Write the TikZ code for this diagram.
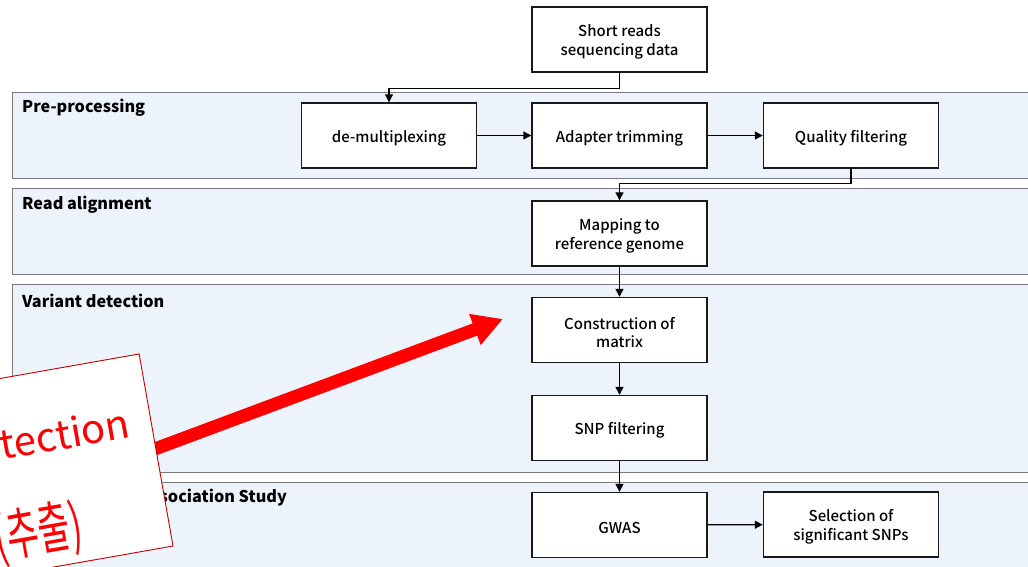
\documentclass[tikz,border=0pt]{standalone}
\usepackage{fontspec}
\setmainfont{Noto Sans CJK KR}
\newfontfamily\stepfont{Noto Sans CJK KR Medium}
\usetikzlibrary{arrows.meta}
\definecolor{lanefill}{HTML}{EDF3FA}
\definecolor{laneline}{HTML}{7A7A7A}
\definecolor{noteline}{HTML}{C00000}
\definecolor{ink}{HTML}{FF0000}

\begin{document}
\begin{tikzpicture}[x=1pt,y=-1pt,
  lane/.style={draw=laneline, fill=lanefill, line width=1pt},
  lanetitle/.style={anchor=west, inner sep=0pt, font=\bfseries\fontsize{16.2}{19}\selectfont},
  stepbox/.style={draw=black!90, fill=white, line width=1.4pt,
    minimum width=175pt, minimum height=65pt, inner sep=0pt},
  steptext/.style={inner sep=0pt, align=center, yshift=-2.5pt,
    font=\stepfont\fontsize{15}{18.5}\selectfont},
  flow/.style={-{Triangle[length=8pt,width=8pt]}, line width=1.2pt},
  handnote/.style={text=ink, inner sep=0pt, rotate=10},
]
\clip (0,0) rectangle (1028,566);
\fill[white] (0,0) rectangle (1028,566);

% swim lanes
\draw[lane] (12,92)  rectangle (1040,178);
\draw[lane] (12,188) rectangle (1040,274);
\draw[lane] (12,284) rectangle (1040,472);
\draw[lane] (12,482) rectangle (1040,590);

\node[lanetitle] (t1) at (22,108) {Pre-processing};
\node[lanetitle] (t2) at (22,205) {Read alignment};
\node[lanetitle] (t3) at (22,301) {Variant detection};
\node[lanetitle] (t4) at (22,498) {Genome-wide Association Study};

% process steps: box first, then its caption
\node[stepbox] (short) at (619.5,39.5)  {};
\node[stepbox] (demux) at (389,135.5)   {};
\node[stepbox] (adapt) at (619.5,135.5) {};
\node[stepbox] (qual)  at (851,135.5)   {};
\node[stepbox] (map)   at (619.5,233.5) {};
\node[stepbox] (cons)  at (619.5,330)   {};
\node[stepbox] (snp)   at (619.5,428)   {};
\node[stepbox] (gwas)  at (619.5,525)   {};
\node[stepbox] (sel)   at (851,524.5)   {};

\node[steptext] (shortT) at (short) {Short reads\\sequencing data};
\node[steptext] (demuxT) at (demux) {de-multiplexing};
\node[steptext] (adaptT) at (adapt) {Adapter trimming};
\node[steptext] (qualT)  at (qual)  {Quality filtering};
\node[steptext] (mapT)   at (map)   {Mapping to\\reference genome};
\node[steptext] (consT)  at (cons)  {Construction of\\matrix};
\node[steptext] (snpT)   at (snp)   {SNP filtering};
\node[steptext] (gwasT)  at (gwas)  {GWAS};
\node[steptext] (selT)   at (sel)   {Selection of\\significant SNPs};

% flow connectors
\draw[flow] (short.south) -- ++(0,16) -| (demux.north);
\draw[flow] (demux) -- (adapt);
\draw[flow] (adapt) -- (qual);
\draw[flow] (qual.south) -- ++(0,15) -| (map.north);
\draw[flow] (map) -- (cons);
\draw[flow] (cons) -- (snp);
\draw[flow] (snp) -- (gwas);
\draw[flow] (gwas) -- (sel);

% red pointer from the sticky note
\coordinate (ptrstart) at (120,462);
\coordinate (ptrtip) at (503,319);
\draw[ink, line width=13pt, -{Triangle[length=30pt,width=31pt]}] (ptrstart) -- (ptrtip);

% sticky note
\begin{scope}[shift={(173,546)}, rotate=10]
  \filldraw[fill=white, draw=noteline, line width=0.9pt] (0,0) -- (0,-195) -- (-260,-195) -- (-260,0) -- cycle;
\end{scope}
\node[handnote, anchor=base east, font=\fontsize{40}{44}\selectfont] (n1) at (132,437) {detection};
\node[handnote, anchor=base east, font=\fontsize{56}{60}\selectfont, xscale=0.62] (n2) at (85,543) {(추출)};
\end{tikzpicture}
\end{document}
